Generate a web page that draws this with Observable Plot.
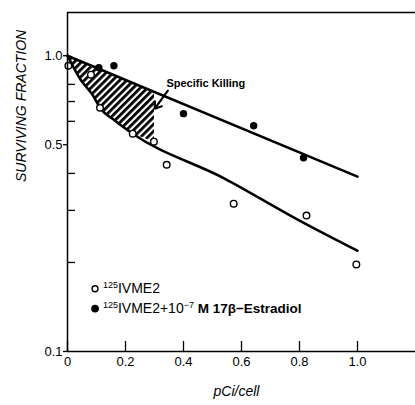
<!DOCTYPE html>
<html><head><meta charset="utf-8">
<script src="https://cdn.jsdelivr.net/npm/d3@7"></script>
<script src="https://cdn.jsdelivr.net/npm/@observablehq/plot@0.6"></script>
<style>
html,body{margin:0;padding:0;background:#fff;overflow:hidden;}
</style>
</head><body><div id="chart"></div>
<script>
// ---- data ----
const openX   = [0.003, 0.081, 0.112, 0.225, 0.298, 0.342, 0.573, 0.824, 0.996];
const openY   = [0.925, 0.863, 0.667, 0.545, 0.512, 0.428, 0.316, 0.288, 0.197];
const filledX = [0.108, 0.16, 0.40, 0.642, 0.814];
const filledY = [0.911, 0.925, 0.637, 0.58, 0.452];
const upperX  = [0, 1.0];
const upperY  = [1.0, 0.39];
const lowerX  = [0, 0.043, 0.088, 0.112, 0.164, 0.225, 0.54, 0.80, 1.0];
const lowerY  = [1.0, 0.836, 0.733, 0.667, 0.603, 0.545, 0.385, 0.277, 0.219];
const hatchX  = [0, 0.043, 0.088, 0.112, 0.164, 0.225, 0.30];
const hatchLo = [1.0, 0.836, 0.733, 0.667, 0.603, 0.545, 0.51];
const hatchHi = [1.0, 0.96, 0.92, 0.90, 0.857, 0.809, 0.754];
const xTicks  = [0, 0.2, 0.4, 0.6, 0.8, 1.0];
const xTickLabels = ["0", "0.2", "0.4", "0.6", "0.8", "1.0"];
const yMajor  = [1.0, 0.5, 0.1];
const yMajorLabels = ["1.0", "0.5", "0.1"];
const yMinor  = [0.8, 0.7, 0.6, 0.4, 0.3, 0.2];
const noteText = ["Specific Killing"];
const noteX = [0.341], noteY = [0.804];
const arrowFrom = [0.346, 0.762], arrowTo = [0.301, 0.662];
const legendLabels = ["125IVME2", "125IVME2+10-7 M 17β-Estradiol"];
const legendParts = [
  [["125", "sup"], ["IVME2", ""]],
  [["125", "sup"], ["IVME2+10", ""], ["−7", "sup"], [" M 17β−Estradiol", "small"]]
];
const legendDotX = [0.095, 0.095];
const legendY = [0.163, 0.1397];
const legendTextX = [0.122, 0.122];
const legendFilled = [false, true];
const xLabel = "pCi/cell";
const yLabel = "SURVIVING FRACTION";

// ---- tables ----
const openPts = openX.map((x, i) => ({x, y: openY[i]}));
const filledPts = filledX.map((x, i) => ({x, y: filledY[i]}));
const upper = upperX.map((x, i) => ({x, y: upperY[i]}));
const lower = lowerX.map((x, i) => ({x, y: lowerY[i]}));
const hatch = hatchX.map((x, i) => ({x, lo: hatchLo[i], hi: hatchHi[i]}));
const legend = legendLabels.map((t, i) => ({t, dx: legendDotX[i], tx: legendTextX[i], y: legendY[i], filled: legendFilled[i]}));

const font = "'Liberation Sans', Arial, Helvetica, sans-serif";
const W = 415, H = 405, ML = 67, MT = 12, MR = 0, MB = 54;
const frameW = W - ML - MR, frameH = H - MT - MB;

const plot = Plot.plot({
  width: W, height: H,
  marginLeft: ML, marginTop: MT, marginRight: MR, marginBottom: MB,
  x: {domain: [0, 1.2]},
  y: {type: "log", domain: [0.1, 1.4]},
  style: {fontFamily: font, background: "white", color: "black", fontSize: "13px", overflow: "visible"},
  marks: [
    Plot.areaY(hatch, {x: "x", y1: "lo", y2: "hi", fill: "url(#hatch)"}),
    Plot.line(upper, {x: "x", y: "y", stroke: "black", strokeWidth: 2.5}),
    Plot.line(lower, {x: "x", y: "y", stroke: "black", strokeWidth: 2.5, curve: "monotone-x"}),
    Plot.dot(openPts, {x: "x", y: "y", r: 3.3, stroke: "black", fill: "white", strokeWidth: 1.4}),
    Plot.dot(filledPts, {x: "x", y: "y", r: 3.7, fill: "black", stroke: "none"}),
    Plot.ruleY([0.1], {stroke: "black", strokeWidth: 1.5}),
    Plot.ruleY([1.4], {stroke: "black", strokeWidth: 1.5}),
    Plot.ruleX([0], {stroke: "black", strokeWidth: 1.5}),
    // inward ticks
    Plot.tickX(xTicks, {x: d => d, insetTop: frameH - 10, stroke: "black", strokeWidth: 1.3}),
    Plot.tickY(yMinor, {y: d => d, insetRight: frameW - 8, stroke: "black", strokeWidth: 1.3}),
    Plot.axisX(xTicks, {tickSize: 0, tickPadding: 5, tickFormat: d => xTickLabels[xTicks.indexOf(d)], fontSize: 13, label: null}),
    Plot.axisY(yMajor, {tickSize: 4, tickPadding: 1, tickFormat: d => yMajorLabels[yMajor.indexOf(d)], fontSize: 13, label: null, strokeWidth: 1.3}),
    Plot.arrow([0], {x1: () => arrowFrom[0], y1: () => arrowFrom[1], x2: () => arrowTo[0], y2: () => arrowTo[1], stroke: "black", strokeWidth: 2.2, headLength: 8, headAngle: 70}),
    Plot.text(noteText, {x: () => noteX[0], y: () => noteY[0], text: d => d, textAnchor: "start", fontWeight: "bold", fontSize: 11}),
    Plot.dot(legend, {x: "dx", y: "y", r: d => d.filled ? 3.7 : 3.2, fill: d => d.filled ? "black" : "white", stroke: "black", strokeWidth: 1.4}),
    Plot.text(legend, {x: "tx", y: "y", text: "t", textAnchor: "start", fontSize: 14, fill: "black"}),
    Plot.text([xLabel], {text: d => d, frameAnchor: "bottom", dy: 44, dx: -5, fontStyle: "italic", fontSize: 14}),
    Plot.text([yLabel], {text: d => d, frameAnchor: "left", dx: -46, rotate: -90, fontStyle: "italic", fontSize: 14})
  ]
});

// hatch pattern definition
d3.select(plot).insert("defs", ":first-child").html(
  `<pattern id="hatch" patternUnits="userSpaceOnUse" width="5" height="5" patternTransform="rotate(45)">
     <rect x="0" y="0" width="5" height="5" fill="white"/>
     <rect x="0" y="0" width="2.8" height="5" fill="black"/>
   </pattern>`);

// rich legend text (superscripts)
d3.select(plot).selectAll("text").each(function() {
  const idx = legendLabels.indexOf(this.textContent);
  if (idx < 0) return;
  const el = d3.select(this);
  el.text(null);
  let shifted = 0;
  legendParts[idx].forEach(([t, kind]) => {
    const ts = el.append("tspan").text(t);
    if (kind === "sup") {
      ts.attr("font-size", 9).attr("dy", -5 - shifted);
      shifted = -5;
    } else {
      ts.attr("dy", -shifted);
      shifted = 0;
      if (kind === "small") ts.attr("font-size", 13.5).attr("font-weight", "bold");
    }
  });
});

document.getElementById("chart").append(plot);
</script>
</body></html>
